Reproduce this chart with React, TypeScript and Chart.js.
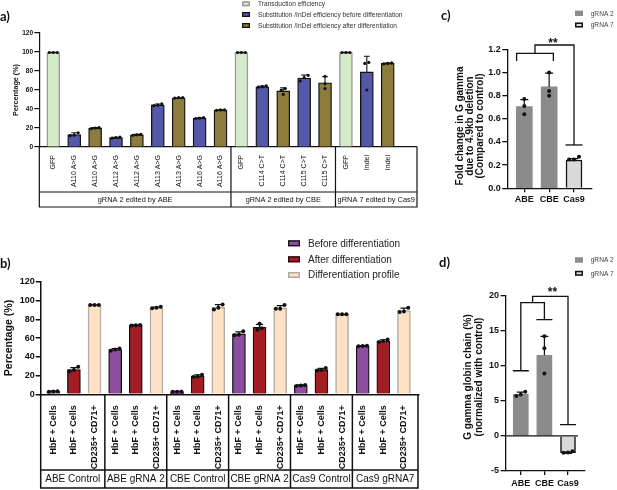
import React, { useEffect, useRef } from 'react';
import { Chart, registerables } from 'chart.js';

Chart.register(...registerables);

const PAGE_W = 617;
const PAGE_H = 490;
const SANS = '"Liberation Sans", Arial, Helvetica, sans-serif';
const LETTER = 'Lato, "Open Sans", sans-serif';
const INK = '#111111';

// ---------------- Panel a data ----------------
const aLabels = ['GFP', 'A110 A>G', 'A110 A>G', 'A112 A>G', 'A112 A>G', 'A113 A>G', 'A113 A>G', 'A116 A>G', 'A116 A>G',
  'GFP', 'C114 C>T', 'C114 C>T', 'C115 C>T', 'C115 C>T', 'GFP', 'Indel', 'Indel'];
const aSeriesOf = [0, 1, 2, 1, 2, 1, 2, 1, 2, 0, 1, 2, 1, 2, 0, 1, 2];
const aSeriesNames = ['Transduction efficiency', 'Substitution /InDel efficiency before differentiation',
  'Substitution /InDel efficiency after differentiation'];
const aMeans = [99.3, 13.2, 19.8, 9.8, 12.8, 44.3, 51.6, 30.3, 38.8, 99.3, 63.3, 59.0, 72.6, 67.5, 99.3, 79.0, 88.0];
const aSD = [0.3, 1.8, 0.6, 0.5, 0.5, 1.0, 0.3, 0.5, 0.3, 0.3, 0.8, 3.3, 3.2, 6.5, 0.3, 16.5, 0.5];
const aReps = [
  [99.5, 99.5, 99.5], [15, 12.5, 12], [20.5, 20, 19.3], [10.5, 10, 9.3], [13.3, 12.8, 12.3],
  [45.5, 44, 43.5], [52, 52, 51.5], [31, 30.5, 30], [39, 39, 38.7],
  [99.5, 99.5, 99.5], [64.5, 63.5, 63], [61.5, 60, 55.5], [75.5, 73, 69.5], [74.5, 66.5, 61.5],
  [99.5, 99.5, 99.5], [89, 88, 60], [88.5, 88, 87.5],
];
const aGroupNames = ['gRNA 2 edited by ABE', 'gRNA 2 edited by CBE', 'gRNA 7 edited by Cas9'];
const aGroupSizes = [9, 5, 3];

// ---------------- Panel b data ----------------
const bLabels = ['HbF + Cells', 'HbF + Cells', 'CD235+ CD71+', 'HbF + Cells', 'HbF + Cells', 'CD235+ CD71+',
  'HbF + Cells', 'HbF + Cells', 'CD235+ CD71+', 'HbF + Cells', 'HbF + Cells', 'CD235+ CD71+',
  'HbF + Cells', 'HbF + Cells', 'CD235+ CD71+', 'HbF + Cells', 'HbF + Cells', 'CD235+ CD71+'];
const bSeriesOf = [0, 1, 2, 0, 1, 2, 0, 1, 2, 0, 1, 2, 0, 1, 2, 0, 1, 2];
const bSeriesNames = ['Before differentiation', 'After differentiation', 'Differentiation profile'];
const bMeans = [3, 26.5, 95.3, 47.8, 73.8, 92.5, 2.8, 19.5, 93, 64.5, 71.5, 92.5, 9.5, 26.3, 85.3, 51.6, 57.0, 89.5];
const bSD = [0.3, 2.0, 0.2, 1.0, 0.3, 0.8, 0.3, 1.2, 2.8, 2.3, 3.3, 2.3, 0.5, 1.3, 0.2, 0.4, 1.3, 2.5];
const bReps = [
  [3.3, 3, 2.8], [29.5, 26, 24.5], [95.5, 95.5, 95.5],
  [49, 47.8, 46.6], [74, 73.8, 73.6], [93.5, 92.5, 92],
  [3, 2.8, 2.6], [21, 19, 18.6], [96, 90.5, 92.5],
  [67.5, 63.5, 63], [75.5, 69, 70.5], [95.5, 91.5, 91.5],
  [10, 9.5, 9], [28, 26, 25.3], [85.5, 85.5, 85.5],
  [52, 51.6, 51.3], [58.5, 57, 56], [92.5, 88, 88.5],
];
const bGroupNames = ['ABE Control', 'ABE gRNA 2', 'CBE Control', 'CBE gRNA 2', 'Cas9 Control', 'Cas9 gRNA7'];
const bGroupSizes = [3, 3, 3, 3, 3, 3];

// ---------------- Panel c data ----------------
const cLabels = ['ABE', 'CBE', 'Cas9'];
const cSeriesOf = [0, 0, 1];
const cSeriesNames = ['gRNA 2', 'gRNA 7'];
const cMeans = [0.705, 0.875, 0.244];
const cSD = [0.06, 0.12, 0.012];
const cReps = [[0.77, 0.71, 0.64], [1.0, 0.84, 0.8], [0.272, 0.248, 0.248]];
const cSigLines = [
  [[-0.31, 1.10], [-0.31, 1.165], [1.17, 1.165], [1.17, 1.10]],
  [[0.43, 1.165], [0.43, 1.237], [2, 1.237], [2, 0.374]],
];
const cSigCaps = [[2, 0.374]];
const cSigMark = { x: 1.155, y: 1.281, text: '**' };

// ---------------- Panel d data ----------------
const dLabels = ['ABE', 'CBE', 'Cas9'];
const dSeriesOf = [0, 0, 1];
const dSeriesNames = ['gRNA 2', 'gRNA 7'];
const dMeans = [5.95, 11.5, -2.38];
const dSD = [0.3, 2.7, 0.12];
const dReps = [[6.3, 5.9, 5.7], [14.2, 12.5, 8.9], [-2.2, -2.35, -2.4]];
const dSigLines = [
  [[0, 9.3], [0, 19.0], [1, 19.0], [1, 16.6]],
  [[0.5, 19.0], [0.5, 19.9], [2, 19.9], [2, 1.6]],
];
const dSigCaps = [[0, 9.3], [1, 16.6], [2, 1.6]];
const dSigMark = { x: 1.343, y: 20.9, text: '**' };
const dZeroLineEnd = 2.42;

// ---------------- helpers ----------------
function spread(reps: number[], thr: number, step: number): number[] {
  const idx = reps.map((_, i) => i).sort((p, q) => reps[p] - reps[q]);
  const off = new Array(reps.length).fill(0);
  let start = 0;
  for (let k = 1; k <= idx.length; k++) {
    if (k === idx.length || reps[idx[k]] - reps[idx[k - 1]] > thr) {
      const n = k - start;
      for (let m = 0; m < n; m++) off[idx[start + m]] = (m - (n - 1) / 2) * step;
      start = k;
    }
  }
  return off;
}

function drawGroups(chart: any, names: string[], sizes: number[], o: any) {
  const { ctx, chartArea: a } = chart;
  const xs = chart.scales.x;
  const edges = [a.left];
  let cum = 0;
  for (let k = 0; k < sizes.length - 1; k++) {
    cum += sizes[k];
    edges.push(xs.getPixelForValue(cum - 0.5));
  }
  edges.push(a.right + o.rightExtra);
  ctx.save();
  ctx.strokeStyle = INK;
  ctx.lineWidth = o.width;
  ctx.beginPath();
  edges.forEach((e: number) => { ctx.moveTo(e, a.bottom); ctx.lineTo(e, o.bottom); });
  ctx.moveTo(edges[0], o.mid); ctx.lineTo(edges[edges.length - 1], o.mid);
  ctx.moveTo(edges[0] - o.width / 2, o.bottom); ctx.lineTo(edges[edges.length - 1] + o.width / 2, o.bottom);
  ctx.stroke();
  ctx.fillStyle = INK;
  ctx.font = o.font;
  ctx.textAlign = 'center';
  ctx.textBaseline = 'middle';
  names.forEach((n, k) => ctx.fillText(n, (edges[k] + edges[k + 1]) / 2, (o.mid + o.bottom) / 2 + 0.5));
  ctx.restore();
}

function drawLegend(ctx: any, names: string[], fills: string[], borders: string[], bws: number[], o: any) {
  ctx.save();
  names.forEach((n, k) => {
    const y = o.rows[k];
    ctx.fillStyle = fills[k];
    ctx.fillRect(o.squareX, y - o.squareH / 2, o.squareW, o.squareH);
    const bw = Math.max(bws[k], 1.2);
    ctx.strokeStyle = borders[k];
    ctx.lineWidth = bw;
    ctx.strokeRect(o.squareX + bw / 2, y - o.squareH / 2 + bw / 2, o.squareW - bw, o.squareH - bw);
    ctx.fillStyle = o.color;
    ctx.font = o.font;
    ctx.textAlign = 'left';
    ctx.textBaseline = 'middle';
    ctx.fillText(n, o.textX, y + 0.5);
  });
  ctx.restore();
}

function drawVTitle(ctx: any, lines: string[], x0: number, cy: number, font: string, spacing: number) {
  ctx.save();
  ctx.font = font;
  ctx.fillStyle = INK;
  ctx.textAlign = 'center';
  ctx.textBaseline = 'middle';
  lines.forEach((l, k) => {
    ctx.save();
    ctx.translate(x0 + k * spacing, cy);
    ctx.rotate(-Math.PI / 2);
    ctx.fillText(l, 0, 0);
    ctx.restore();
  });
  ctx.restore();
}

function drawLetter(ctx: any, t: string, x: number, y: number) {
  ctx.save();
  ctx.font = `bold 13px ${LETTER}`;
  ctx.fillStyle = INK;
  ctx.textAlign = 'left';
  ctx.textBaseline = 'alphabetic';
  ctx.fillText(t, x, y);
  ctx.restore();
}

function drawSig(chart: any, lines: number[][][], caps: number[][], capHalf: number, mark: any, width: number) {
  const { ctx } = chart;
  const xs = chart.scales.x;
  const ys = chart.scales.y;
  ctx.save();
  ctx.strokeStyle = INK;
  ctx.lineWidth = width;
  ctx.lineJoin = 'miter';
  lines.forEach((pl) => {
    ctx.beginPath();
    pl.forEach(([vx, vy], k) => {
      const px = xs.getPixelForValue(vx);
      const py = ys.getPixelForValue(vy);
      if (k === 0) ctx.moveTo(px, py); else ctx.lineTo(px, py);
    });
    ctx.stroke();
  });
  ctx.beginPath();
  caps.forEach(([vx, vy]) => {
    const px = xs.getPixelForValue(vx);
    const py = ys.getPixelForValue(vy);
    ctx.moveTo(px - capHalf, py);
    ctx.lineTo(px + capHalf, py);
  });
  ctx.stroke();
  const fs = 12;
  ctx.font = `bold ${fs}px ${SANS}`;
  ctx.fillStyle = INK;
  ctx.textAlign = 'center';
  ctx.textBaseline = 'alphabetic';
  ctx.fillText(mark.text, xs.getPixelForValue(mark.x), ys.getPixelForValue(mark.y) + 0.57 * fs);
  ctx.restore();
}

function drawErrorBars(chart: any, p: any) {
  const { ctx } = chart;
  const xs = chart.scales.x;
  const ys = chart.scales.y;
  ctx.save();
  ctx.strokeStyle = INK;
  ctx.lineWidth = p.errWidth;
  ctx.beginPath();
  p.means.forEach((m: number, i: number) => {
    const sd = p.sd[i];
    if (!sd) return;
    const end = m >= 0 ? m + sd : m - sd;
    const px = xs.getPixelForValue(i);
    const y0 = ys.getPixelForValue(m);
    const y1 = ys.getPixelForValue(end);
    ctx.moveTo(px, y0);
    ctx.lineTo(px, y1);
    ctx.moveTo(px - p.capHalf, y1);
    ctx.lineTo(px + p.capHalf, y1);
  });
  ctx.stroke();
  ctx.restore();
}

// ---------------- panel definitions ----------------
const aFills = ['#d5ebc8', '#5558a8', '#8e7c3c'];
const aBorders = ['#9a9a9a', INK, INK];
const aBW = [1.5, 1.3, 1.3];
const bFills = ['#8d4e9f', '#a11d23', '#fde1c5'];
const bBorders = [INK, INK, '#b5aba2'];
const bBW = [1.3, 1.3, 1.5];
const cdFills = ['#8b8b8b', '#d9d9d9'];
const cdBorders = ['#8b8b8b', INK];
const cdBW = [0, 1.5];

const panels: any[] = [
  {
    key: 'a', labels: aLabels, seriesOf: aSeriesOf, seriesNames: aSeriesNames,
    means: aMeans, sd: aSD, reps: aReps, fills: aFills, borders: aBorders, borderWidths: aBW,
    area: { left: 39.3, right: 417, top: 33, bottom: 147 }, xBox: 58,
    xMin: -0.67, xMax: 17.4, yMin: 0, yMax: 120, yStep: 20, yDecimals: 0,
    barThickness: 13, dotRadius: 1.6, dotThr: 4.2, dotStep: 0.19, axisWidth: 1.2,
    yTickFont: { family: SANS, size: 6.5, weight: 'bold' }, yTickLen: 5, yTickPad: 1.3,
    xTickFont: { family: SANS, size: 7, weight: 'normal' }, xRotation: 90, xTickPad: 4, xTickMarks: false,
    errWidth: 1.1, capHalf: 3,
    extras: (chart: any) => {
      const ctx = chart.ctx;
      drawGroups(chart, aGroupNames, aGroupSizes, { mid: 192, bottom: 207, rightExtra: 0, font: `7.4px ${SANS}`, width: 1.2 });
      drawLegend(ctx, aSeriesNames, aFills, aBorders, aBW, {
        squareX: 242, squareW: 8, squareH: 5, textX: 258, rows: [3.8, 14.5, 25.5], font: `6.6px ${SANS}`, color: '#333',
      });
      drawVTitle(ctx, ['Percentage (%)'], 16, 90, `bold 7.2px ${SANS}`, 0);
      drawLetter(ctx, 'a)', 0, 21);
    },
  },
  {
    key: 'b', labels: bLabels, seriesOf: bSeriesOf, seriesNames: bSeriesNames,
    means: bMeans, sd: bSD, reps: bReps, fills: bFills, borders: bBorders, borderWidths: bBW,
    area: { left: 40.7, right: 419, top: 282, bottom: 394.3 }, xBox: 78,
    xMin: -0.61, xMax: 17.73, yMin: 0, yMax: 120, yStep: 20, yDecimals: 0,
    barThickness: 13, dotRadius: 2, dotThr: 4.3, dotStep: 0.21, axisWidth: 1.5,
    yTickFont: { family: SANS, size: 9, weight: 'bold' }, yTickLen: 5, yTickPad: 1,
    xTickFont: { family: SANS, size: 9, weight: 'bold' }, xRotation: 90, xTickPad: 7, xTickMarks: false,
    errWidth: 1.2, capHalf: 3.5,
    extras: (chart: any) => {
      const ctx = chart.ctx;
      drawGroups(chart, bGroupNames, bGroupSizes, { mid: 470, bottom: 488, rightExtra: -1, font: `10px ${SANS}`, width: 1.5 });
      drawLegend(ctx, bSeriesNames, bFills, bBorders, bBW, {
        squareX: 288, squareW: 12, squareH: 6, textX: 308, rows: [243.3, 259.3, 275], font: `10px ${SANS}`, color: '#222',
      });
      drawVTitle(ctx, ['Percentage (%)'], 9, 338, `bold 10.6px ${SANS}`, 0);
      drawLetter(ctx, 'b)', 0, 268);
    },
  },
  {
    key: 'c', labels: cLabels, seriesOf: cSeriesOf, seriesNames: cSeriesNames,
    means: cMeans, sd: cSD, reps: cReps, fills: cdFills, borders: cdBorders, borderWidths: cdBW,
    area: { left: 507.3, right: 591.7, top: 49.3, bottom: 188.3 }, xBox: 24,
    xMin: -0.684, xMax: 2.712, yMin: 0, yMax: 1.2, yStep: 0.2, yDecimals: 1,
    barThickness: 16, dotRadius: 2, dotThr: 0.035, dotStep: 0.2, axisWidth: 1.3,
    yTickFont: { family: SANS, size: 9, weight: 'bold' }, yTickLen: 5, yTickPad: 1.5,
    xTickFont: { family: SANS, size: 9, weight: 'bold' }, xRotation: 0, xTickPad: 2, xTickMarks: true,
    errWidth: 1.2, capHalf: 4,
    extras: (chart: any) => {
      const ctx = chart.ctx;
      drawSig(chart, cSigLines, cSigCaps, 8.5, cSigMark, 1.3);
      drawLegend(ctx, cSeriesNames, cdFills, cdBorders, cdBW, {
        squareX: 575, squareW: 8, squareH: 5, textX: 590.7, rows: [13.3, 25], font: `6.6px ${SANS}`, color: '#444',
      });
      drawVTitle(ctx, ['Fold change in G gamma', 'due to 4.9kb deletion', '(Compared to control)'], 460, 126, `bold 10px ${SANS}`, 10.35);
      drawLetter(ctx, 'c)', 441, 20);
    },
  },
  {
    key: 'd', labels: dLabels, seriesOf: dSeriesOf, seriesNames: dSeriesNames,
    means: dMeans, sd: dSD, reps: dReps, fills: cdFills, borders: cdBorders, borderWidths: cdBW,
    area: { left: 505.5, right: 585, top: 295.7, bottom: 471 }, xBox: 18,
    xMin: -0.648, xMax: 2.72, yMin: -5, yMax: 20, yStep: 5, yDecimals: 0,
    barThickness: 15, dotRadius: 2, dotThr: 0.57, dotStep: 0.19, axisWidth: 1.3,
    yTickFont: { family: SANS, size: 9, weight: 'bold' }, yTickLen: 5, yTickPad: 1.5,
    xTickFont: { family: SANS, size: 9, weight: 'bold' }, xRotation: 0, xTickPad: 3, xTickMarks: true,
    errWidth: 1.2, capHalf: 4,
    extras: (chart: any) => {
      const ctx = chart.ctx;
      const xs = chart.scales.x;
      const ys = chart.scales.y;
      ctx.save();
      ctx.strokeStyle = INK;
      ctx.lineWidth = 1.3;
      ctx.beginPath();
      ctx.moveTo(chart.chartArea.left, ys.getPixelForValue(0));
      ctx.lineTo(xs.getPixelForValue(dZeroLineEnd), ys.getPixelForValue(0));
      ctx.stroke();
      ctx.restore();
      drawSig(chart, dSigLines, dSigCaps, 8, dSigMark, 1.3);
      drawLegend(ctx, dSeriesNames, cdFills, cdBorders, cdBW, {
        squareX: 575, squareW: 8, squareH: 5, textX: 590.7, rows: [260, 273.3], font: `6.6px ${SANS}`, color: '#444',
      });
      drawVTitle(ctx, ['G gamma globin chain (%)', '(normalized with control)'], 468.3, 377, `bold 10px ${SANS}`, 11);
      drawLetter(ctx, 'd)', 439, 267);
    },
  },
];

function makeConfig(p: any): any {
  const dots: { x: number; y: number }[] = [];
  p.reps.forEach((r: number[], i: number) => {
    const off = spread(r, p.dotThr, p.dotStep);
    r.forEach((v, k) => dots.push({ x: i + off[k], y: v }));
  });
  const datasets: any[] = [{
    type: 'scatter', label: 'Replicates', data: dots, order: 0, clip: false,
    pointRadius: p.dotRadius, pointHoverRadius: p.dotRadius, pointBackgroundColor: INK, pointBorderWidth: 0, showLine: false,
  }];
  p.seriesNames.forEach((name: string, s: number) => {
    const data: any[] = [];
    p.means.forEach((m: number, i: number) => { if (p.seriesOf[i] === s) data.push({ x: i, y: m }); });
    datasets.push({
      type: 'bar', label: name, data, order: 1 + s, grouped: false,
      backgroundColor: p.fills[s], borderColor: p.borders[s], borderWidth: p.borderWidths[s],
      barThickness: p.barThickness,
    });
  });
  const plugin = {
    id: 'panel-extras-' + p.key,
    beforeDatasetDraw(chart: any, args: any) {
      if (args.index === 0) drawErrorBars(chart, p);
    },
    afterDraw(chart: any) {
      p.extras(chart);
    },
  };
  return {
    type: 'bar',
    data: { datasets },
    plugins: [plugin],
    options: {
      responsive: false,
      maintainAspectRatio: false,
      animation: false,
      events: [],
      layout: {
        padding: { left: 0, top: p.area.top, right: PAGE_W - p.area.right, bottom: PAGE_H - p.area.bottom - p.xBox },
      },
      plugins: { legend: { display: false }, tooltip: { enabled: false }, title: { display: false } },
      scales: {
        x: {
          type: 'linear', min: p.xMin, max: p.xMax, offset: false, bounds: 'data',
          afterBuildTicks: (s: any) => { s.ticks = p.labels.map((_: string, i: number) => ({ value: i })); },
          afterFit: (s: any) => { s.height = p.xBox; },
          ticks: {
            autoSkip: false, maxRotation: p.xRotation, minRotation: p.xRotation, padding: p.xTickPad,
            font: p.xTickFont, color: INK,
            callback: (v: any) => p.labels[Math.round(Number(v))] ?? '',
          },
          grid: {
            display: p.xTickMarks, drawOnChartArea: false, drawTicks: true, tickLength: 4,
            color: INK, lineWidth: p.axisWidth, offset: false,
          },
          border: { display: true, color: INK, width: p.axisWidth },
        },
        y: {
          type: 'linear', min: p.yMin, max: p.yMax,
          afterFit: (s: any) => { s.width = p.area.left; },
          ticks: {
            stepSize: p.yStep, font: p.yTickFont, color: INK, padding: p.yTickPad,
            callback: (v: any) => Number(v).toFixed(p.yDecimals),
          },
          grid: { display: true, drawOnChartArea: false, drawTicks: true, tickLength: p.yTickLen, color: INK, lineWidth: p.axisWidth },
          border: { display: true, color: INK, width: p.axisWidth },
        },
      },
    },
  };
}

export default function App() {
  const canvases = useRef<(HTMLCanvasElement | null)[]>([]);
  useEffect(() => {
    const charts = panels.map((p, i) => new Chart(canvases.current[i] as HTMLCanvasElement, makeConfig(p)));
    return () => charts.forEach((c) => c.destroy());
  }, []);
  return (
    <div style={{ position: 'fixed', left: 0, top: 0, width: PAGE_W, height: PAGE_H, background: '#fff', overflow: 'hidden' }}>
      {panels.map((p, i) => (
        <canvas
          key={p.key}
          ref={(el) => { canvases.current[i] = el; }}
          width={PAGE_W}
          height={PAGE_H}
          style={{ position: 'absolute', left: 0, top: 0, width: PAGE_W, height: PAGE_H }}
        />
      ))}
    </div>
  );
}
